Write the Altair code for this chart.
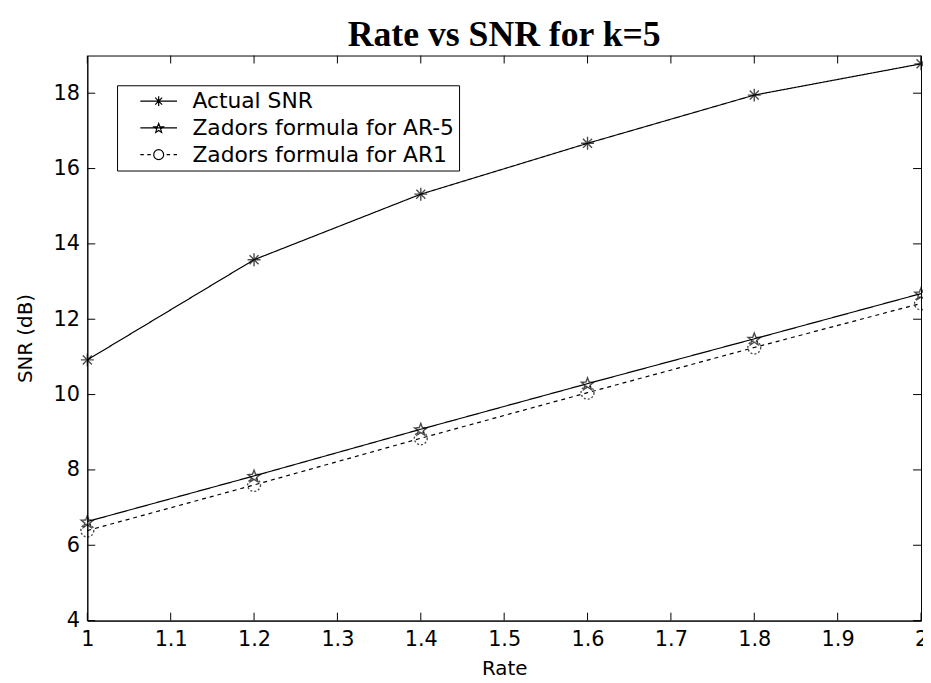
import math
import altair as alt
import pandas as pd

# ---- data ----
rate = [1.0, 1.2, 1.4, 1.6, 1.8, 2.0]
actual_snr = [10.92, 13.58, 15.32, 16.67, 17.95, 18.78]
zador_ar5 = [6.63, 7.84, 9.08, 10.29, 11.48, 12.68]
zador_ar1 = [6.39, 7.60, 8.84, 10.05, 11.25, 12.42]
series_names = ["Actual SNR", "Zadors formula for AR-5", "Zadors formula for AR1"]
x_ticks = [1.0, 1.1, 1.2, 1.3, 1.4, 1.5, 1.6, 1.7, 1.8, 1.9, 2.0]
y_ticks = [4, 6, 8, 10, 12, 14, 16, 18]

rows = []
for name, vals in zip(series_names, [actual_snr, zador_ar5, zador_ar1]):
    for r, v in zip(rate, vals):
        rows.append({"Rate": r, "SNR": v, "series": name, "legend_series": name})
df = pd.DataFrame(rows)

# ---- marker paths ----
asterisk = "M-1,0L1,0M0,-1L0,1M-0.7,-0.7L0.7,0.7M-0.7,0.7L0.7,-0.7"
pts = []
for k in range(10):
    ang = math.radians(-90 + 36 * k)
    rad = 1.0 if k % 2 == 0 else 0.42
    pts.append((rad * math.cos(ang), rad * math.sin(ang) + 0.1))
penta = "M" + "L".join(f"{px:.3f},{py:.3f}" for px, py in pts) + "Z"
circle = "M1,0A1,1,0,1,1,-1,0A1,1,0,1,1,1,0Z"

legend_paths = [
    "M-3.7,0L3.7,0" + asterisk,
    "M-3.7,0L3.7,0" + penta,
    "M-3.7,0L-3.0,0M-2.3,0L-1.6,0M1.6,0L2.3,0M3.0,0L3.7,0" + circle,
]

W, H = 841, 570
FONT = "DejaVu Sans"

xs = alt.Scale(domain=[1, 2], nice=False, zero=False)
ys = alt.Scale(domain=[4, 19], nice=False, zero=False)

base = alt.Chart(df)

lines = base.mark_line(color="black", strokeWidth=1.2).encode(
    x=alt.X("Rate:Q", scale=xs,
            axis=alt.Axis(values=x_ticks, format="~g", title="Rate", ticks=False,
                          labelFlush=False, labelOverlap=False,
                          labelPadding=8, titlePadding=9, grid=False)),
    y=alt.Y("SNR:Q", scale=ys,
            axis=alt.Axis(values=y_ticks, format="d", title="SNR (dB)", ticks=False,
                          labelFlush=False, labelOverlap=False,
                          labelPadding=8, titlePadding=18, grid=False)),
    strokeDash=alt.StrokeDash("series:N",
                              scale=alt.Scale(domain=series_names, range=[[1, 0], [1, 0], [4, 4]]),
                              legend=None),
    detail="series:N",
)

points = base.mark_point(color="black", filled=False, strokeWidth=1.4, size=170).encode(
    x=alt.X("Rate:Q", scale=xs),
    y=alt.Y("SNR:Q", scale=ys),
    shape=alt.Shape("series:N", scale=alt.Scale(domain=series_names, range=[asterisk, penta, circle]),
                    legend=None),
    strokeDash=alt.StrokeDash("series:N",
                              scale=alt.Scale(domain=series_names, range=[[1, 0], [1, 0], [2, 2]]),
                              legend=None),
)

legend_layer = base.mark_point(color="black", filled=False, opacity=0, size=144, strokeWidth=1).encode(
    x=alt.X("Rate:Q", scale=xs),
    y=alt.Y("SNR:Q", scale=ys),
    shape=alt.Shape("legend_series:N",
                    scale=alt.Scale(domain=series_names, range=legend_paths),
                    legend=alt.Legend(title=None, orient="none", legendX=30, legendY=30,
                                      padding=5, rowPadding=5,
                                      strokeColor="black", fillColor="white",
                                      labelFont=FONT, labelFontSize=22, labelColor="black",
                                      labelLimit=600, symbolOffset=26, labelOffset=23,
                                      symbolStrokeColor="black", symbolStrokeWidth=1.2)),
)

xt = pd.DataFrame({"t": x_ticks})
yt = pd.DataFrame({"t": y_ticks})
tick_len = 8
tx_bot = alt.Chart(xt).mark_rule(color="black", strokeWidth=1).encode(
    x=alt.X("t:Q", scale=xs), y=alt.value(H), y2=alt.value(H - tick_len))
tx_top = alt.Chart(xt).mark_rule(color="black", strokeWidth=1).encode(
    x=alt.X("t:Q", scale=xs), y=alt.value(0), y2=alt.value(tick_len))
ty_left = alt.Chart(yt).mark_rule(color="black", strokeWidth=1).encode(
    y=alt.Y("t:Q", scale=ys), x=alt.value(0), x2=alt.value(tick_len))
ty_right = alt.Chart(yt).mark_rule(color="black", strokeWidth=1).encode(
    y=alt.Y("t:Q", scale=ys), x=alt.value(W), x2=alt.value(W - tick_len))

chart = alt.layer(lines, points, legend_layer, tx_bot, tx_top, ty_left, ty_right).resolve_scale(
    shape="independent", strokeDash="independent"
).properties(
    width=W, height=H,
    background="white",
    autosize=alt.AutoSizeParams(type="none"),
    padding={"left": 80, "top": 45, "right": 2, "bottom": 60},
    title=alt.Title("Rate vs SNR for k=5", font="Liberation Serif", fontSize=36,
                    fontWeight="bold", color="black", anchor="middle", offset=1),
).configure_view(
    stroke="black", strokeWidth=1
).configure_axis(
    domainColor="black", domainWidth=1, labelColor="black", titleColor="black",
    labelFont=FONT, titleFont=FONT, labelFontSize=21, titleFontSize=20,
    titleFontWeight="normal",
)

chart.save("out.html", embed_options={"renderer": "svg", "actions": False})
